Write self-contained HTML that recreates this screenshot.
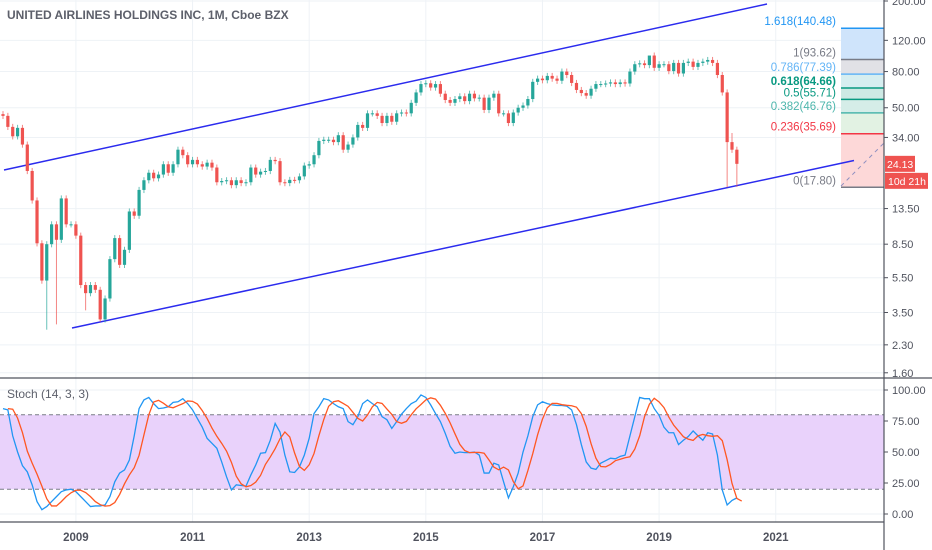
<!DOCTYPE html>
<html><head><meta charset="utf-8"><style>
body{margin:0;background:#fff}
svg{display:block;font-family:"Liberation Sans",sans-serif}
</style></head><body>
<svg id="c" width="932" height="550" viewBox="0 0 932 550">
<rect width="932" height="550" fill="#fff"/>
<g id="grid"></g>
<g id="fib"></g>
<line x1="4" y1="170" x2="767" y2="4" stroke="#2b2bee" stroke-width="1.5"/>
<line x1="72" y1="328" x2="854" y2="160.5" stroke="#2b2bee" stroke-width="1.5"/>
<line x1="841" y1="186" x2="884" y2="143" stroke="#8f8fc0" stroke-width="1" stroke-dasharray="4,4"/>
<g id="candles"></g>
<g id="stoch"></g>
<g id="axes"></g>
<text x="7" y="19" font-size="12" font-weight="bold" fill="#5d606b">UNITED AIRLINES HOLDINGS INC, 1M, Cboe BZX</text>
<text x="7" y="398" font-size="12" fill="#5d606b">Stoch (14, 3, 3)</text>
</svg>
<script>
const closes=[45,39,34.5,
38.5,31,22,15,8.6,5.3,8.5,11,9,15.4,11,11,
9.5,5,4.5,5,4.7,3.2,4.2,7,9.2,6.5,7.9,13,
12.3,17.2,19.5,21.5,20,21,24,21.5,24,29,27,24,
25.4,24,23.3,24.5,23,19,19.3,19.5,18.3,19.5,18.8,19,
23,21,21.8,22,25.4,25,19,18.8,19.6,19.5,20.5,23.6,
24,27,32.5,33,33,32,35,29,31,34,40,38.5,
46.5,46.5,45,41,45,41.7,46.5,47,46.5,53.3,61,68,
68.7,65,68,60,55.3,53.3,56,58,54.5,60,56.5,57,
48.6,57,60,46.5,46.5,41,47,50,51.5,56,70,73,
71.5,75.6,73,71,80,76.5,69,63,60.5,58.5,64,68,
68,68.5,69.5,68,69.5,68.5,80,88,89,87,98.5,84,
88,88,80.5,89.5,78,89.5,91,85,89.5,91,93,89.5,
76.5,61,32,29,24.13];
const firstOpen=46;
const lowOverrides={9:2.8,11:3.0,17:3.6,20:3.1,149:17.8,151:17.9};
const highOverrides={150:36,133:97};
const stochK=[85,84,63,50,39,34,23.5,10,3.5,6,10,14,18,19.4,20,18,14,10,6,6.5,6.5,7.3,14,26,33,35.5,43.5,63,85,92,94,89,85,85.5,86.5,90,90.5,93,89,84,77,70,61,57,53,42,30,19.4,23.5,23,22.5,31.5,39.5,49,49.5,59.5,73,66,47.5,34,33.5,38,47.5,61,81,86.5,93,92,89,86.5,85,74.5,72,78.5,89,92,89,86.5,78.5,76,69,74.5,80.5,85,89,91,96,94,88,81,74.5,65,54.5,49,50,49.5,49.5,50,47.5,33,33,41,39.5,26,13,22,33,50,63,78.5,88,90.5,89,88,87.5,87.5,87,84,72,56,42,37,36,41,43,45,44.5,46.5,47.5,63,78.5,94,93,93,85,79.5,70,65.5,65.5,56,59.5,62.5,67,63,59.5,65.5,64.5,47.5,19.4,7.3,11,13];
const priceTicks=[200,120,80,50,34,13.5,8.5,5.5,3.5,2.3,1.6];
const stochTicks=[100,75,50,25,0];
const yearLabels=["2009","2011","2013","2015","2017","2019","2021"];
const fibLevels=["1.618","1","0.786","0.618","0.5","0.382","0.236","0"];
const fibPrices=[140.48,93.62,77.39,64.66,55.71,46.76,35.69,17.80];
const fibLine=["#2196f3","#787b86","#64b5f6","#089981","#089981","#4db6ac","#f23645","#787b86"];
const fibFill=["#cfe4fb","#e1e1e6","#d6eef0","#cde9e4","#d5ede8","#e2f2e3","#fdd8d8"];

const NS="http://www.w3.org/2000/svg";
const PL=884;
function py(p){return 1+(Math.log(200)-Math.log(p))*77;}
function tx(i){return 3+4.86*i;}
function sy(v){return 514-v*1.24;}
function mk(tag,a,parent){const e=document.createElementNS(NS,tag);for(const k in a)e.setAttribute(k,a[k]);parent.appendChild(e);return e;}
const G=document.getElementById('grid'),C=document.getElementById('candles'),S=document.getElementById('stoch'),A=document.getElementById('axes'),F=document.getElementById('fib');

priceTicks.forEach(p=>{const l=mk('line',{x1:0,x2:PL,y1:py(p),y2:py(p),stroke:'#eef2f6'},G);

});
yearLabels.forEach((y,k)=>{const x=tx(15+24*k);
const l=mk('line',{x1:x,x2:x,y1:0,y2:522,stroke:'#eef2f6'},G);

});
stochTicks.forEach(v=>{const l=mk('line',{x1:0,x2:PL,y1:sy(v),y2:sy(v),stroke:'#eef2f6'},G);

});

for(let k=0;k<fibFill.length;k++){
 const y1=py(fibPrices[k]),y2=py(fibPrices[k+1]);
 const r=mk('rect',{x:841,y:y1,width:PL-841,height:y2-y1,fill:fibFill[k]},F);
 
 
}
fibLevels.forEach((lv,k)=>{const y=py(fibPrices[k]);
 const l=mk('line',{x1:841,x2:PL,y1:y,y2:y,stroke:fibLine[k],'stroke-width':1.5},F);
 
 
 const t=mk('text',{x:836,y:y-3,'text-anchor':'end','font-size':11.5,fill:fibLine[k],'font-weight':(lv==="0.618"?'bold':'normal')},F);
 t.textContent=lv+"("+fibPrices[k].toFixed(2)+")";
 
 
});

let prev=firstOpen;
closes.forEach((c,i)=>{
 const o=prev;prev=c;
 const up=c>=o,col=up?'#26a69a':'#ef5350';
 const hi=highOverrides[i]!==undefined?highOverrides[i]:Math.max(o,c)*1.04;
 const lo=lowOverrides[i]!==undefined?lowOverrides[i]:Math.min(o,c)*0.96;
 const x=tx(i);
 const w=mk('line',{x1:x,x2:x,y1:py(hi),y2:py(lo),stroke:col,'stroke-opacity':0.7},C);
 
 
 const yt=py(Math.max(o,c)),yb=py(Math.min(o,c));
 const b=mk('rect',{x:x-1.6,y:yt,width:3.2,height:Math.max(1,yb-yt),fill:col},C);
 
 
});

const band=mk('rect',{x:0,y:sy(80),width:PL,height:sy(20)-sy(80),fill:'#e9d2fb'},S);


[80,20].forEach(v=>{const l=mk('line',{x1:0,x2:PL,y1:sy(v),y2:sy(v),stroke:'#787b86','stroke-dasharray':'4,3'},S);

});
const stochD=stochK.map((v,i)=>{const s=stochK.slice(Math.max(0,i-2),i+1);return s.reduce((a,b)=>a+b,0)/s.length;});
const kp=mk('polyline',{points:stochK.map((v,i)=>tx(i)+','+sy(v)).join(' '),fill:'none',stroke:'#2196f3','stroke-width':1.3},S);


const dp=mk('polyline',{points:stochD.map((v,i)=>tx(i+1)+','+sy(v)).join(' '),fill:'none',stroke:'#ff5722','stroke-width':1.3},S);



[[PL,0,PL,550],[0,378,932,378],[0,522,PL,522]].forEach(a=>{const l=mk('line',{x1:a[0],y1:a[1],x2:a[2],y2:a[3],stroke:'#50535e','stroke-width':1.2},A);

});
priceTicks.forEach(p=>{const y=py(p);
 mk('line',{x1:PL,x2:PL+4,y1:y,y2:y,stroke:'#50535e'},A);
 const t=mk('text',{x:892,y:y+4,'font-size':11,fill:'#50535e'},A);
 t.textContent=p.toFixed(2);
 
 });
stochTicks.forEach(v=>{const y=sy(v);
 mk('line',{x1:PL,x2:PL+4,y1:y,y2:y,stroke:'#50535e'},A);
 const t=mk('text',{x:892,y:y+4,'font-size':11,fill:'#50535e'},A);
 t.textContent=v.toFixed(2);
 
 });
yearLabels.forEach((yl,k)=>{const t=mk('text',{x:tx(15+24*k),y:541,'text-anchor':'middle','font-size':11.5,'font-weight':'bold',fill:'#50535e'},A);
 t.textContent=yl;
 
 });
const last=closes[closes.length-1],ly=py(last);
const pb=mk('rect',{x:885,y:ly-8,width:30,height:16,fill:'#ef5350'},A);


const pt=mk('text',{x:887,y:ly+4,'font-size':10.5,fill:'#fff'},A);
pt.textContent=last.toFixed(2);


const cb=mk('rect',{x:885,y:ly+9,width:43,height:16,fill:'#ef5350'},A);


const ct=mk('text',{x:888,y:ly+21,'font-size':10.5,fill:'#fff'},A);
ct.textContent="10d 21h";


</script>
</body></html>
